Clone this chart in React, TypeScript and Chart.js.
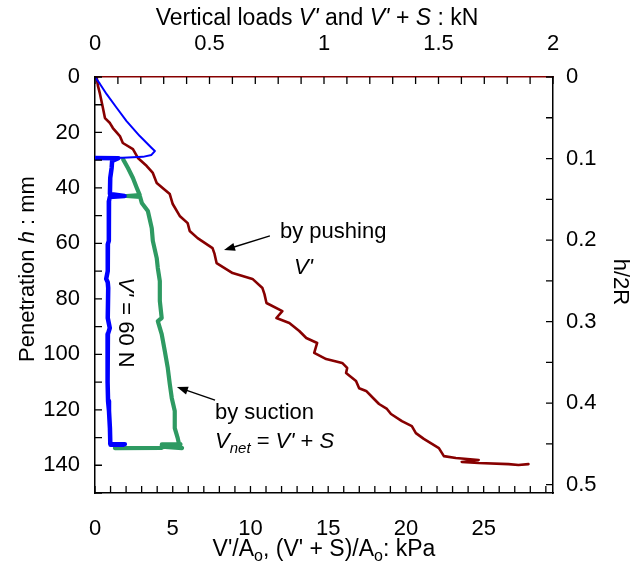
import React, { useEffect, useRef } from 'react';
import { Chart, registerables } from 'chart.js';

Chart.register(...registerables);

// Axis ranges
const X_MAX_KPA = 29.46; // = 2 kN / A0
const X2_MAX_KN = 2;
const Y_MAX_MM = 150;
const DIAMETER_MM = 294; // 2R

const bottomTicks = [0, 5, 10, 15, 20, 25];
const topTicks = [0, 0.5, 1, 1.5, 2];
const leftTicks = [0, 20, 40, 60, 80, 100, 120, 140];
const rightTicks = [0, 0.1, 0.2, 0.3, 0.4, 0.5];

// By pushing V' (kPa vs mm)
const pushKPa = [0, 0.11, 0.19, 0.32, 0.51, 0.64, 0.96, 1.15, 1.6, 1.79, 2.44, 2.76, 3.33, 3.72, 3.97, 4.81, 5.0, 5.45, 5.96, 6.09, 6.6, 7.56, 7.69, 7.82, 8.85, 10.13, 10.77, 10.9, 11.03, 12.05, 11.67, 12.5, 13.14, 13.59, 14.29, 14.1, 14.87, 15.9, 16.22, 16.15, 16.79, 16.99, 17.44, 17.95, 18.27, 18.78, 19.04, 19.74, 20.38, 20.64, 21.15, 22.12, 22.44, 23.21, 24.68, 23.59, 24.68, 26.6, 27.24, 27.88];
const pushMm = [0, 0.25, 3.2, 6.1, 11.2, 14.8, 16.6, 18.4, 21.3, 23.8, 26.0, 29.2, 32.1, 34.6, 38.2, 42.2, 45.8, 50.1, 52.7, 55.5, 58.1, 61.7, 63.8, 67.1, 70.7, 72.8, 76.1, 78.3, 81.5, 84.4, 86.9, 88.7, 91.6, 94.1, 95.9, 99.5, 101.7, 103.1, 104.9, 106.7, 109.6, 112.2, 113.2, 116.1, 117.9, 119.7, 121.5, 124.1, 125.9, 128.4, 130.5, 133.8, 136.7, 137.4, 138.1, 138.8, 139.2, 139.6, 139.9, 139.6];

// Initial self-weight penetration (thin blue)
const initKPa = [0, 0.32, 0.75, 1.39, 2.03, 2.88, 3.63, 3.85, 3.63, 3.08, 1.79, 0.06];
const initMm = [0, 2.5, 6.2, 11.1, 15.9, 21.3, 25.5, 26.7, 28.1, 28.8, 29.1, 29.1];

// V' = 60 N during suction (thick blue)
const vKPa = [0, 1.5, 1.1, 1.07, 0.98, 0.96, 1.9, 0.95, 0.9, 0.88, 0.9, 0.83, 0.82, 0.72, 0.82, 0.85, 0.82, 0.95, 0.83, 0.82, 0.8, 0.84, 0.9, 0.96, 0.98, 0.98, 1.92, 1.8, 1.0];
const vMm = [29.2, 29.3, 30.3, 32.8, 36.4, 42.2, 42.9, 43.3, 44.7, 52, 59.1, 60.2, 70, 72.8, 74, 76.1, 86.9, 90.5, 92.7, 100, 110, 116.8, 120.4, 126.6, 131.3, 132.3, 132.4, 132.6, 132.6];

// By suction Vnet = V' + S (green)
const netKPa = [1.81, 2.12, 2.44, 2.69, 2.88, 2.03, 2.9, 3.01, 3.4, 3.65, 3.72, 3.97, 4.04, 4.17, 4.17, 4.29, 4.04, 4.29, 4.49, 4.68, 4.81, 4.94, 5.13, 5.13, 5.32, 5.45, 5.6, 4.3, 5.5, 4.3, 4.3, 1.28];
const netMm = [29.7, 32.8, 36.4, 40.0, 42.6, 42.9, 43.2, 45.4, 48.3, 54.5, 59.1, 65.3, 68.9, 73.6, 80.8, 86.9, 88.0, 92.7, 98.8, 104.9, 110.7, 115.8, 120.4, 126.6, 130.2, 133.5, 133.8, 133.3, 132.4, 132.5, 133.7, 133.8];

const FONT = 'Liberation Sans, Arial, Helvetica, sans-serif';
const FS = 22;

type Seg = { t: string; i?: boolean; sub?: boolean };

function segFont(s: Seg, fs: number) {
  const size = s.sub ? Math.round(fs * 0.7) : fs;
  return `${s.i ? 'italic ' : ''}${size}px ${FONT}`;
}

function drawRich(ctx: CanvasRenderingContext2D, segs: Seg[], x: number, y: number, align: 'left' | 'center', rot = 0, fs = FS) {
  ctx.save();
  ctx.translate(x, y);
  ctx.rotate(rot);
  let total = 0;
  const widths = segs.map((s) => {
    ctx.font = segFont(s, fs);
    const w = ctx.measureText(s.t).width;
    total += w;
    return w;
  });
  let cx = align === 'center' ? -total / 2 : 0;
  ctx.textBaseline = 'middle';
  ctx.textAlign = 'left';
  ctx.fillStyle = '#000';
  segs.forEach((s, k) => {
    ctx.font = segFont(s, fs);
    ctx.fillText(s.t, cx, s.sub ? fs * 0.3 : 0);
    cx += widths[k];
  });
  ctx.restore();
}

function arrow(ctx: CanvasRenderingContext2D, x1: number, y1: number, x2: number, y2: number) {
  const ang = Math.atan2(y2 - y1, x2 - x1);
  const L = 11, W = 4;
  ctx.save();
  ctx.strokeStyle = '#000';
  ctx.fillStyle = '#000';
  ctx.lineWidth = 1.4;
  ctx.beginPath();
  ctx.moveTo(x1, y1);
  ctx.lineTo(x2 - Math.cos(ang) * L * 0.8, y2 - Math.sin(ang) * L * 0.8);
  ctx.stroke();
  ctx.beginPath();
  ctx.moveTo(x2, y2);
  ctx.lineTo(x2 - Math.cos(ang) * L - Math.sin(ang) * W, y2 - Math.sin(ang) * L + Math.cos(ang) * W);
  ctx.lineTo(x2 - Math.cos(ang) * L + Math.sin(ang) * W, y2 - Math.sin(ang) * L - Math.cos(ang) * W);
  ctx.closePath();
  ctx.fill();
  ctx.restore();
}

const decorPlugin = {
  id: 'decor',
  afterDraw(chart: any) {
    const ctx: CanvasRenderingContext2D = chart.ctx;
    const { x, x2, y, y2 } = chart.scales;
    const a = chart.chartArea;
    const TL = 7;
    ctx.save();
    ctx.lineWidth = 1.3;
    ctx.strokeStyle = '#000';
    ctx.beginPath();
    for (let v = 0; v <= 29; v += 1) {
      const px = x.getPixelForValue(v);
      ctx.moveTo(px, a.bottom);
      ctx.lineTo(px, a.bottom - TL);
    }
    for (let k = 0; k <= 20; k++) {
      const px = x2.getPixelForValue(k * 0.1);
      ctx.moveTo(px, a.top);
      ctx.lineTo(px, a.top + TL);
    }
    for (let v = 0; v <= 150; v += 10) {
      const py = y.getPixelForValue(v);
      ctx.moveTo(a.left, py);
      ctx.lineTo(a.left + TL, py);
    }
    for (let k = 0; k <= 10; k++) {
      const py = y2.getPixelForValue(k * 0.05);
      ctx.moveTo(a.right, py);
      ctx.lineTo(a.right - TL, py);
    }
    ctx.stroke();
    ctx.restore();

    // Axis titles
    drawRich(ctx, [{ t: 'Vertical loads ' }, { t: "V'", i: true }, { t: ' and ' }, { t: "V'", i: true }, { t: ' + ' }, { t: 'S', i: true }, { t: ' : kN' }], 317, 19, 'center', 0, 23);
    drawRich(ctx, [{ t: "V'/A" }, { t: 'o', sub: true }, { t: ", (V' + S)/A" }, { t: 'o', sub: true }, { t: ': kPa' }], 324, 550, 'center', 0, 23);
    drawRich(ctx, [{ t: 'Penetration ' }, { t: 'h', i: true }, { t: ' : mm' }], 28, 269, 'center', -Math.PI / 2);
    drawRich(ctx, [{ t: 'h/2R' }], 620, 282, 'center', Math.PI / 2);

    // Annotations (data coordinates)
    const P = (kx: number, my: number) => [x.getPixelForValue(kx), y.getPixelForValue(my)];
    const [t1x, t1y] = P(11.9, 55.9);
    drawRich(ctx, [{ t: 'by pushing' }], t1x, t1y, 'left');
    const [t2x, t2y] = P(12.8, 69.0);
    drawRich(ctx, [{ t: "V'", i: true }], t2x, t2y, 'left');
    const [a1x, a1y] = P(11.25, 57.3);
    const [h1x, h1y] = P(8.3, 62.4);
    arrow(ctx, a1x, a1y, h1x, h1y);

    const [s1x, s1y] = P(7.72, 121.2);
    drawRich(ctx, [{ t: 'by suction' }], s1x, s1y, 'left');
    const [s2x, s2y] = P(7.72, 131.6);
    drawRich(ctx, [{ t: 'V', i: true }, { t: 'net', i: true, sub: true }, { t: ' = ' }, { t: "V'", i: true }, { t: ' + ' }, { t: 'S', i: true }], s2x, s2y, 'left');
    const [a2x, a2y] = P(7.72, 116.5);
    const [h2x, h2y] = P(5.27, 111.8);
    arrow(ctx, a2x, a2y, h2x, h2y);

    const [rx, ry] = P(1.93, 88.5);
    drawRich(ctx, [{ t: "V'", i: true }, { t: ' = 60 N' }], rx, ry, 'center', Math.PI / 2);
  },
};

const zip = (xs: number[], ys: number[]) => xs.map((v, i) => ({ x: v, y: ys[i] }));

const tickFont = { family: FONT, size: FS };
const fmt = (v: any) => String(+Number(v).toFixed(2));

const lineBase = { pointRadius: 0, xAxisID: 'x', yAxisID: 'y', fill: false, tension: 0, borderJoinStyle: 'round', borderCapStyle: 'round' };

export default function App() {
  const ref = useRef<HTMLCanvasElement | null>(null);
  useEffect(() => {
    if (!ref.current) return;
    const chart = new Chart(ref.current, {
      type: 'line',
      data: {
        datasets: [
          { ...lineBase, data: zip(initKPa, initMm), borderColor: '#0000ff', borderWidth: 2 },
          { ...lineBase, data: zip(pushKPa, pushMm), borderColor: '#870000', borderWidth: 2.6 },
          { ...lineBase, data: zip(vKPa, vMm), borderColor: '#0000ff', borderWidth: 4.5 },
          { ...lineBase, data: zip(netKPa, netMm), borderColor: '#2e9a62', borderWidth: 4.2 },
        ],
      } as any,
      options: {
        animation: false,
        responsive: false,
        maintainAspectRatio: false,
        layout: { padding: 0 },
        plugins: { legend: { display: false }, tooltip: { enabled: false } },
        scales: {
          x: {
            type: 'linear', position: 'bottom', min: 0, max: X_MAX_KPA,
            afterBuildTicks: (s: any) => { s.ticks = bottomTicks.map((v) => ({ value: v })); },
            afterFit: (s: any) => { s.height = 69; },
            ticks: { font: tickFont, color: '#000', padding: 23, maxRotation: 0, autoSkip: false, callback: fmt },
            grid: { display: false, drawTicks: false },
            border: { display: true, color: '#000', width: 1.5 },
          },
          x2: {
            type: 'linear', position: 'top', min: 0, max: X2_MAX_KN,
            afterBuildTicks: (s: any) => { s.ticks = topTicks.map((v) => ({ value: v })); },
            afterFit: (s: any) => { s.height = 77; },
            ticks: { font: tickFont, color: '#000', padding: 20, maxRotation: 0, autoSkip: false, callback: fmt },
            grid: { display: false, drawTicks: false },
            border: { display: true, color: '#870000', width: 1.5 },
          },
          y: {
            type: 'linear', position: 'left', reverse: true, min: 0, max: Y_MAX_MM,
            afterBuildTicks: (s: any) => { s.ticks = leftTicks.map((v) => ({ value: v })); },
            afterFit: (s: any) => { s.width = 95; },
            ticks: { font: tickFont, color: '#000', padding: 15, autoSkip: false, callback: fmt },
            grid: { display: false, drawTicks: false },
            border: { display: true, color: '#000', width: 1.5 },
          },
          y2: {
            type: 'linear', position: 'right', reverse: true, min: 0, max: Y_MAX_MM / DIAMETER_MM,
            afterBuildTicks: (s: any) => { s.ticks = rightTicks.map((v) => ({ value: v })); },
            afterFit: (s: any) => { s.width = 86; },
            ticks: { font: tickFont, color: '#000', padding: 13, autoSkip: false, callback: fmt },
            grid: { display: false, drawTicks: false },
            border: { display: true, color: '#000', width: 1.5 },
          },
        },
      } as any,
      plugins: [decorPlugin],
    });
    return () => chart.destroy();
  }, []);
  return (
    <div style={{ position: 'fixed', left: 0, top: 0, width: 639, height: 562, background: '#fff' }}>
      <canvas ref={ref} width={639} height={562} style={{ width: 639, height: 562, display: 'block' }} />
    </div>
  );
}
